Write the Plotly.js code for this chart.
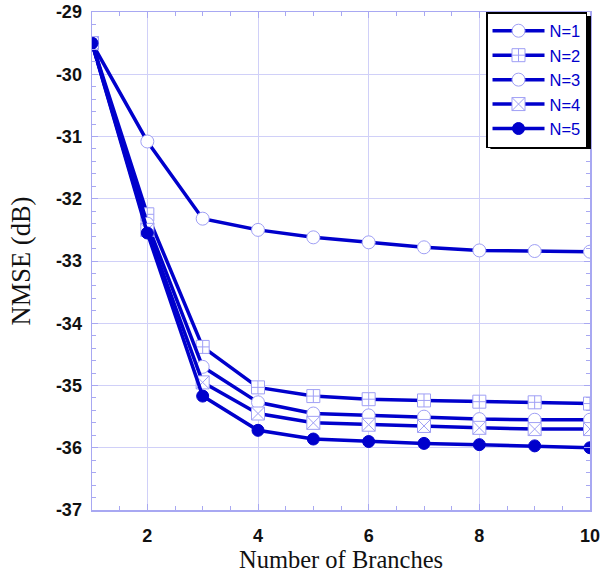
<!DOCTYPE html>
<html><head><meta charset="utf-8">
<script src="https://cdn.plot.ly/plotly-3.0.1.min.js"></script>
<style>body{margin:0;background:#fff}#c{width:600px;height:579px}</style>
</head><body><div id="c"></div>
<script>
const branches = [1,2,3,4,5,6,7,8,9,10];
const seriesNames = ["N=1","N=2","N=3","N=4","N=5"];
const n1 = [-29.5,-31.08,-32.32,-32.5,-32.62,-32.7,-32.78,-32.83,-32.84,-32.85];
const n2 = [-29.5,-32.25,-34.38,-35.03,-35.17,-35.22,-35.24,-35.26,-35.27,-35.29];
const n3 = [-29.5,-32.4,-34.7,-35.27,-35.45,-35.48,-35.5,-35.54,-35.55,-35.55];
const n4 = [-29.5,-32.5,-34.95,-35.45,-35.6,-35.63,-35.65,-35.68,-35.7,-35.7];
const n5 = [-29.5,-32.55,-35.17,-35.72,-35.86,-35.9,-35.93,-35.95,-35.97,-36.0];
const yTicks = [-37,-36,-35,-34,-33,-32,-31,-30,-29];
const xTicks = [2,4,6,8,10];

const blue = "#0000CC";
const mk = "#9f9ff5";
const symbols = ["circle","square-cross","circle","square-x","circle"];
const data = [n1,n2,n3,n4,n5].map((v,i)=>({
  x: branches, y: v, name: seriesNames[i], type: "scatter", mode: "lines+markers",
  line: {color: blue, width: 3.5},
  marker: {symbol: symbols[i], size: i===4?12:13,
           color: i===4 ? blue : "#ffffff",
           line: {color: i===4 ? blue : mk, width: 1}}
}));

const axisCommon = {
  showline: true, linecolor: "#a8a8f2", linewidth: 1.5, mirror: "ticks",
  showgrid: true, gridcolor: "#d0d0f8", gridwidth: 1,
  ticks: "inside", ticklen: 6, tickcolor: "#a8a8f2", tickwidth: 1,
  zeroline: false, ticklabeloverflow: "allow",
  tickfont: {family: "Arial, Liberation Sans", size: 18, color: "#111", weight: "bold"}
};

const layout = {
  width: 600, height: 579,
  margin: {l: 92, r: 10, t: 12, b: 69},
  paper_bgcolor: "#fff", plot_bgcolor: "#fff",
  showlegend: true,
  xaxis: Object.assign({}, axisCommon, {
    range: [1, 10], tickvals: xTicks, ticktext: xTicks.map(String),
    ticklabelstandoff: 9,
    minor: {dtick: 0.5, ticks: "inside", ticklen: 4, tickcolor: "#a8a8f2", showgrid: false},
    title: {text: "Number of Branches", font: {family: "Liberation Serif, Times New Roman", size: 24.5, color: "#111"}, standoff: 6}
  }),
  yaxis: Object.assign({}, axisCommon, {
    range: [-37, -29], tickvals: yTicks, ticktext: yTicks.map(String),
    ticklabelstandoff: 5,
    minor: {dtick: 0.2, ticks: "inside", ticklen: 4, tickcolor: "#a8a8f2", showgrid: false},
    title: {text: "NMSE (dB)", font: {family: "Liberation Serif, Times New Roman", size: 26.5, color: "#111"}, standoff: 17}
  }),
  legend: {
    x: 0.994, y: 1.0, xanchor: "right", yanchor: "top",
    bgcolor: "#fff", bordercolor: "#000", borderwidth: 1.5,
    font: {family: "Arial, Liberation Sans", size: 16.5, color: blue},
    itemwidth: 52, tracegroupgap: 0
  },
  shapes: [{type: "rect", xref: "paper", yref: "paper",
            x0: 0.80, x1: 1.002, y0: 0.725, y1: 0.992,
            fillcolor: "#000", line: {width: 0}, layer: "above"}]
};

Plotly.newPlot("c", data, layout, {displayModeBar: false, staticPlot: true});
</script></body></html>
